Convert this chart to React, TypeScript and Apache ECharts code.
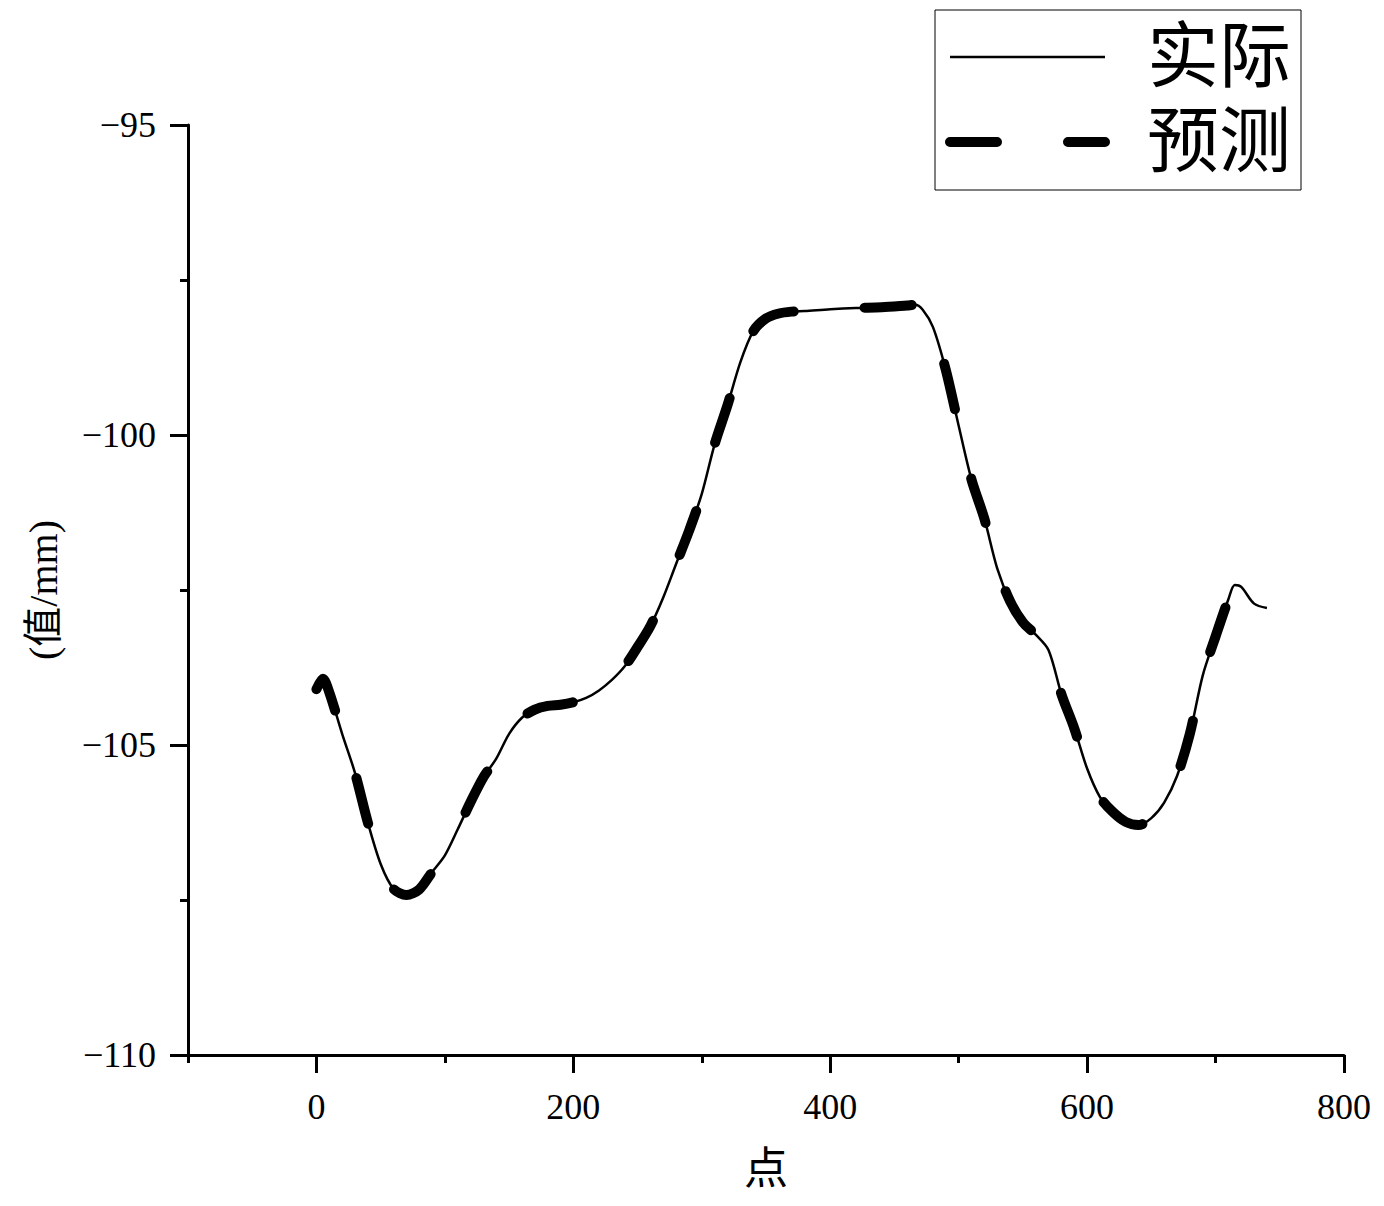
import React, { useEffect, useRef } from "react";
import * as echarts from "echarts";

const pointX = [
  0, 5, 10, 20, 30, 40, 50, 60, 70, 80, 90, 100, 110, 120, 130, 140, 150, 160, 170, 180,
  190, 200, 210, 220, 230, 240, 250, 260, 270, 280, 290, 300, 310, 320, 330, 340, 350, 360,
  370, 380, 400, 420, 440, 460, 466, 472, 480, 490, 500, 510, 520, 530, 540, 550, 560, 570,
  580, 590, 600, 610, 620, 630, 640, 650, 660, 670, 680, 690, 700, 710, 715, 720, 730, 740,
];

const actualY = [
  -104.1, -103.93, -104.15, -104.82, -105.45, -106.25, -106.92, -107.32, -107.42, -107.33,
  -107.05, -106.78, -106.36, -105.92, -105.52, -105.22, -104.82, -104.56, -104.43, -104.37,
  -104.35, -104.31, -104.24, -104.12, -103.95, -103.73, -103.42, -103.08, -102.62, -102.08,
  -101.55, -100.95, -100.15, -99.52, -98.83, -98.33, -98.12, -98.04, -98.01, -98.0,
  -97.97, -97.95, -97.94, -97.91, -97.9, -97.98, -98.26, -98.95, -99.85, -100.72,
  -101.35, -102.15, -102.68, -103.02, -103.22, -103.47, -104.18, -104.73, -105.38, -105.84,
  -106.08, -106.24, -106.29, -106.18, -105.93, -105.5, -104.82, -103.88, -103.25, -102.65,
  -102.42, -102.45, -102.72, -102.79,
];

const predictedY = [
  -104.1, -103.93, -104.15, -104.82, -105.45, -106.25, -106.92, -107.32, -107.42, -107.33,
  -107.05, -106.78, -106.36, -105.92, -105.52, -105.22, -104.82, -104.56, -104.43, -104.37,
  -104.35, -104.31, -104.24, -104.12, -103.95, -103.73, -103.42, -103.08, -102.62, -102.08,
  -101.55, -100.95, -100.15, -99.52, -98.83, -98.33, -98.12, -98.04, -98.01, -98.0,
  -97.97, -97.95, -97.94, -97.91, -97.9, -97.98, -98.26, -98.95, -99.85, -100.72,
  -101.35, -102.15, -102.68, -103.02, -103.22, -103.47, -104.18, -104.73, -105.38, -105.84,
  -106.08, -106.24, -106.29, -106.18, -105.93, -105.5, -104.82, -103.88, -103.25, -102.65,
  -102.42, -102.45, -102.72, -102.79,
];

const xMajorTicks = [0, 200, 400, 600, 800];
const seriesNames = ["实际", "预测"];
const xAxisTitle = "点";
const yAxisTitle = "(值/mm)";

const SERIF = '"Liberation Serif", "Times New Roman", "Noto Sans CJK SC", serif';

export default function App() {
  const ref = useRef<HTMLDivElement>(null);

  useEffect(() => {
    document.body.style.margin = "0";
    if (!ref.current) return;
    const chart = echarts.init(ref.current, null, { renderer: "svg" });
    const actualData = pointX.map((x, i) => [x, actualY[i]]);
    const predictedData = pointX.map((x, i) => [x, predictedY[i]]);
    const axisColor = "#000";
    const fmt = (v: number) => (v < 0 ? "\u2212" + Math.abs(v) : String(v));

    chart.setOption({
      animation: false,
      backgroundColor: "#fff",
      grid: { left: 188, right: 40, top: 125, bottom: 151, containLabel: false },
      legend: {
        left: 935,
        top: 10,
        orient: "vertical",
        borderColor: "#000",
        borderWidth: 1,
        padding: [11, 10, 12, 10],
        itemGap: 13,
        itemWidth: 155,
        itemHeight: 14,
        itemStyle: { opacity: 0 },
        textStyle: {
          fontFamily: SERIF,
          fontSize: 72,
          color: "#000",
          padding: [0, 0, 0, 37],
        },
        data: [
          { name: seriesNames[0], lineStyle: { width: 2.5, color: "#000", type: "solid" } },
          {
            name: seriesNames[1],
            lineStyle: { width: 10, color: "#000", type: [47, 71], cap: "round" },
          },
        ],
      },
      xAxis: [
        {
          type: "value",
          min: -100,
          max: 800,
          position: "bottom",
          name: xAxisTitle,
          nameLocation: "middle",
          nameGap: 92,
          nameTextStyle: { fontFamily: SERIF, fontSize: 44, color: "#000" },
          axisLine: { show: true, onZero: false, lineStyle: { color: axisColor, width: 3 } },
          axisTick: {
            show: true,
            length: 18,
            customValues: xMajorTicks,
            lineStyle: { color: axisColor, width: 3 },
          },
          axisLabel: {
            customValues: xMajorTicks,
            margin: 34,
            fontFamily: SERIF,
            fontSize: 36,
            color: "#000",
            formatter: fmt,
          },
          splitLine: { show: false },
        },
        {
          type: "value",
          min: -100,
          max: 800,
          interval: 100,
          position: "bottom",
          offset: 0,
          axisLine: { show: false, onZero: false },
          axisTick: { show: true, length: 8, lineStyle: { color: axisColor, width: 3 } },
          axisLabel: { show: false },
          splitLine: { show: false },
        },
      ],
      yAxis: {
        type: "value",
        min: -110,
        max: -95,
        interval: 5,
        position: "left",
        name: yAxisTitle,
        nameLocation: "middle",
        nameGap: 125,
        nameTextStyle: { fontFamily: SERIF, fontSize: 40, color: "#000" },
        axisLine: { show: true, onZero: false, lineStyle: { color: axisColor, width: 3 } },
        axisTick: { show: true, length: 18, lineStyle: { color: axisColor, width: 3 } },
        minorTick: { show: true, splitNumber: 2, length: 8, lineStyle: { color: axisColor, width: 3 } },
        axisLabel: { margin: 32, fontFamily: SERIF, fontSize: 36, color: "#000", formatter: fmt },
        splitLine: { show: false },
        minorSplitLine: { show: false },
      },
      series: [
        {
          name: seriesNames[1],
          type: "line",
          xAxisIndex: 0,
          data: predictedData,
          smooth: 0.3,
          symbol: "none",
          z: 2,
          lineStyle: { width: 10, color: "#000", type: [47, 71], cap: "round", join: "round" },
        },
        {
          name: seriesNames[0],
          type: "line",
          xAxisIndex: 0,
          data: actualData,
          smooth: 0.3,
          symbol: "none",
          z: 3,
          lineStyle: { width: 2.5, color: "#000", type: "solid" },
        },
      ],
    });
    return () => chart.dispose();
  }, []);

  return <div ref={ref} style={{ width: 1384, height: 1206 }} />;
}
